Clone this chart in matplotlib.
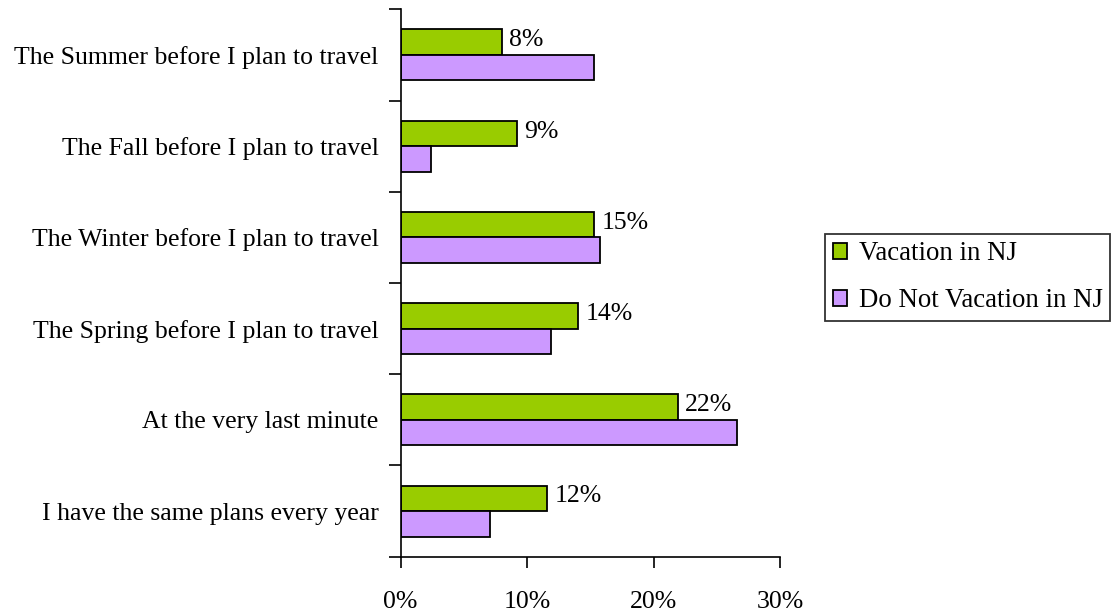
import matplotlib
matplotlib.use("Agg")
import matplotlib.pyplot as plt
import numpy as np

# Survey responses: when travel plans are made
categories = [
    "The Summer before I plan to travel",
    "The Fall before I plan to travel",
    "The Winter before I plan to travel",
    "The Spring before I plan to travel",
    "At the very last minute",
    "I have the same plans every year",
]
vacation_nj = [8.0, 9.2, 15.3, 14.0, 21.9, 11.6]
not_vacation_nj = [15.3, 2.4, 15.8, 11.9, 26.6, 7.1]
series_names = ["Vacation in NJ", "Do Not Vacation in NJ"]
xticks = [0, 10, 20, 30]

GREEN = "#99CC00"
PURPLE = "#CC99FF"
FS = 18.5

plt.rcParams["font.family"] = ["Liberation Serif", "DejaVu Serif"]

fig = plt.figure(figsize=(11.12, 6.12), dpi=100)
ax = fig.add_axes([0.3603, 0.0904, 0.3411, 0.8944])

n = len(categories)
y = np.arange(n)
h = 0.28

bars_g = ax.barh(y - h / 2, vacation_nj, height=h, color=GREEN,
                 edgecolor="black", linewidth=1.3, label=series_names[0])
bars_p = ax.barh(y + h / 2, not_vacation_nj, height=h, color=PURPLE,
                 edgecolor="black", linewidth=1.3, label=series_names[1])

for bar, v in zip(bars_g, vacation_nj):
    ax.text(v + 0.6, bar.get_y() + bar.get_height() / 2 - 0.02, f"{v:.0f}%",
            va="center", ha="left", fontsize=FS)

ax.set_ylim(n - 0.5, -0.5)
ax.set_xlim(0, 30)

# category boundaries carry the ticks, labels sit at centres
ax.set_yticks(np.arange(-0.5, n, 1.0))
ax.set_yticklabels([])
ax.set_yticks(y, minor=True)
ax.set_yticklabels(categories, minor=True, fontsize=FS)
ax.tick_params(axis="y", which="major", direction="out", length=9, width=1.2)
ax.tick_params(axis="y", which="minor", length=0, pad=16)

ax.set_xticks(xticks)
ax.set_xticklabels([f"{t}%" for t in xticks], fontsize=FS)
ax.tick_params(axis="x", direction="out", length=8, width=1.2, pad=17)

for side in ["top", "right"]:
    ax.spines[side].set_visible(False)
for side in ["left", "bottom"]:
    ax.spines[side].set_linewidth(1.2)

leg = fig.legend(handles=[bars_g, bars_p], labels=series_names,
                 loc="upper left", bbox_to_anchor=(0.742, 0.618),
                 fontsize=19.4, frameon=True, fancybox=False,
                 handlelength=0.55, handleheight=0.55, handletextpad=0.42,
                 labelspacing=0.82, borderpad=0.28, borderaxespad=0)
leg.get_frame().set_edgecolor("black")
leg.get_frame().set_linewidth(1.3)

fig.savefig("out.png", dpi=100)
